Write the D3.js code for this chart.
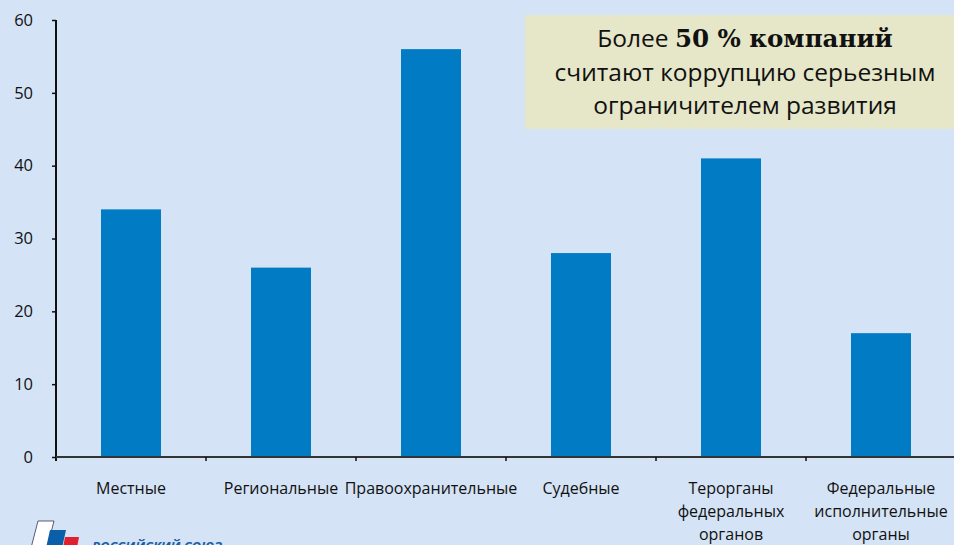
<!doctype html>
<html lang="ru">
<head>
<meta charset="utf-8">
<title>Коррупция как ограничитель развития</title>
<script src="https://cdn.jsdelivr.net/npm/d3@7"></script>
<style>
  html, body { margin: 0; padding: 0; background: #d4e3f5; }
  svg { display: block; font-family: "Open Sans", "Noto Sans", sans-serif; }
</style>
</head>
<body>
<svg id="chart" width="954" height="545"></svg>
<script>
  // данные с картинки
  var categories = [
    ["Местные"],
    ["Региональные"],
    ["Правоохранительные"],
    ["Судебные"],
    ["Терорганы", "федеральных", "органов"],
    ["Федеральные", "исполнительные", "органы"]
  ];
  var values = [34, 26, 56, 28, 41, 17];
  var yTicks = [0, 10, 20, 30, 40, 50, 60];

  var svg = d3.select("#chart");
  var mLeft = 56, mRight = 956, mTop = 20, mBottom = 457;

  svg.append("rect").attr("width", 954).attr("height", 545).attr("fill", "#d4e3f5");

  var x = d3.scaleBand()
      .domain(d3.range(categories.length))
      .range([mLeft, mRight])
      .paddingInner(0.6)
      .paddingOuter(0.3);
  var xEdges = d3.scaleLinear().domain([0, categories.length]).range([mLeft, mRight]);

  var y = d3.scaleLinear().domain([0, 60]).range([mBottom, mTop]);

  // bars
  svg.selectAll("rect.bar")
    .data(values)
    .enter().append("rect")
      .attr("class", "bar")
      .attr("x", function(d, i) { return x(i); })
      .attr("y", function(d) { return y(d); })
      .attr("width", x.bandwidth())
      .attr("height", function(d) { return mBottom - y(d); })
      .attr("fill", "#007bc4");

  // y axis
  var yAxis = svg.append("g")
      .attr("transform", "translate(" + mLeft + ",0)")
      .call(d3.axisLeft(y).tickValues(yTicks).tickSize(4).tickPadding(8));
  yAxis.attr("font-family", null).attr("font-size", null);
  yAxis.select(".domain").attr("stroke", "#111").attr("stroke-width", 2).attr("d", "M0," + mTop + "V" + (mBottom + 4));
  yAxis.selectAll(".tick line").attr("stroke", "#111").attr("stroke-width", 1.5);
  yAxis.selectAll(".tick text")
      .attr("font-size", 16.5).attr("fill", "#111")
      .attr("dx", -11);

  // x axis line + category separators
  svg.append("line")
      .attr("x1", mLeft).attr("x2", mRight)
      .attr("y1", mBottom).attr("y2", mBottom)
      .attr("stroke", "#333").attr("stroke-width", 2);
  svg.selectAll("line.sep")
    .data(d3.range(1, categories.length + 1))
    .enter().append("line")
      .attr("class", "sep")
      .attr("x1", function(d) { return xEdges(d); })
      .attr("x2", function(d) { return xEdges(d); })
      .attr("y1", mBottom).attr("y2", mBottom + 4)
      .attr("stroke", "#111").attr("stroke-width", 1.5);

  // category labels
  var lbl = svg.selectAll("text.cat")
    .data(categories)
    .enter().append("text")
      .attr("class", "cat")
      .attr("text-anchor", "middle")
      .attr("font-size", 16)
      .attr("fill", "#111")
      .attr("transform", function(d, i) { return "translate(" + (x(i) + x.bandwidth() / 2) + ",494)"; });
  lbl.selectAll("tspan")
    .data(function(d) { return d; })
    .enter().append("tspan")
      .attr("x", 0)
      .attr("y", function(d, i) { return i * 23; })
      .text(function(d) { return d; });

  // callout box
  svg.append("rect")
      .attr("x", 525).attr("y", 15).attr("width", 440).attr("height", 114)
      .attr("fill", "#e6e6c8");
  var note = svg.append("text")
      .attr("text-anchor", "middle")
      .attr("font-size", 24.5)
      .attr("fill", "#111");
  var l1 = note.append("tspan").attr("x", 745).attr("y", 47);
  l1.append("tspan").text("Более ");
  l1.append("tspan").attr("font-weight", "bold").attr("font-family", "DejaVu Serif, Liberation Serif, serif").text("50 % компаний");
  note.append("tspan").attr("x", 745).attr("y", 81).text("считают коррупцию серьезным");
  note.append("tspan").attr("x", 745).attr("y", 114).text("ограничителем развития");

  // logo (cut at bottom)
  var logo = svg.append("g");
  logo.append("path").attr("d", "M38,521 L54,521 L47,548 L31,548 Z")
      .attr("fill", "#fff").attr("stroke", "#335").attr("stroke-width", 0.8);
  logo.append("path").attr("d", "M50,530 L66,530 L62,548 L46,548 Z").attr("fill", "#0a5fa8");
  logo.append("path").attr("d", "M65,537 L79,537 L77,548 L63,548 Z").attr("fill", "#e02030");
  logo.append("text")
      .attr("x", 92).attr("y", 551)
      .attr("font-size", 13).attr("font-weight", "bold").attr("font-style", "italic")
      .attr("fill", "#1a5fa8")
      .text("РОССИЙСКИЙ СОЮЗ");
</script>
</body>
</html>
